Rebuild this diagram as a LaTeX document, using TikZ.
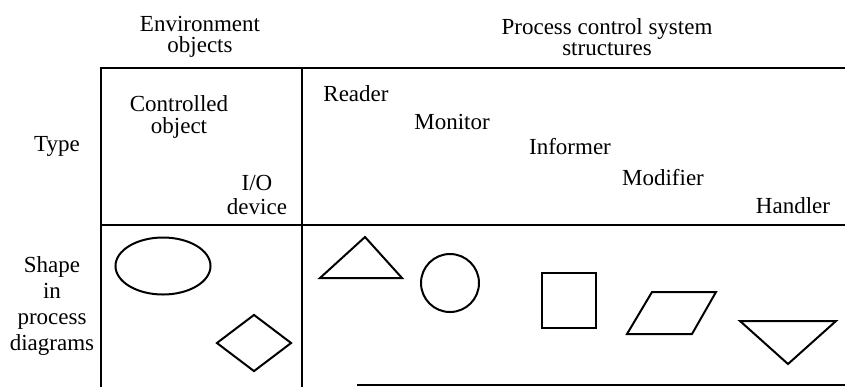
\documentclass[tikz,border=0pt]{standalone}
\usepackage{fontspec}
\setmainfont{Liberation Serif}
\usetikzlibrary{positioning,shapes.geometric}

\begin{document}
\begin{tikzpicture}[x=0.5pt,y=-0.5pt,on grid,
  every node/.style={font=\fontsize{11.5}{10.5}\selectfont,align=center,inner sep=0pt},
  rule/.style={line width=1pt},
  figure/.style={draw,line width=1pt,inner sep=0pt}]
  \useasboundingbox (0,0) rectangle (845,387);

  % table rules
  \draw[rule] (845,68) -- (101,68) -- (101,387);
  \draw[rule] (302,68) -- (302,387);
  \draw[rule] (101,225) -- (845,225);
  \draw[rule] (357,385) -- (845,385);

  % column and row headings
  \node (env) at (200,37) {Environment\\objects};
  \node (pcs) [right=203.5pt of env] {Process control system\\structures};
  \node (type) at (57,146) {Type};
  \node[font=\fontsize{11.5}{13}\selectfont] (shp) at (52,306) {Shape\\in\\process\\diagrams};

  % types
  \node[font=\fontsize{11.5}{11}\selectfont] (ctrl) at (179,117) {Controlled\\object};
  \node[font=\fontsize{11.5}{12}\selectfont] (iodev) [below right=39pt and 39pt of ctrl] {I/O\\device};
  \node (reader) at (356,94) {Reader};
  \node (monitor) [below right=14pt and 48pt of reader] {Monitor};
  \node (informer) [below right=12.5pt and 59pt of monitor] {Informer};
  \node (modifier) [below right=15.5pt and 46.5pt of informer] {Modifier};
  \node (handler) [below right=14pt and 65pt of modifier] {Handler};

  % shapes
  \node[figure,ellipse,minimum width=47.5pt,minimum height=28.5pt] (ctrlshape) at (163,266) {};
  \node[figure,diamond,minimum width=37.5pt,minimum height=28.5pt] (ioshape) at (254,343) {};
  \draw[line width=1pt,line join=miter] (320,278) -- (365,237) -- (402,278) -- cycle;
  \node[figure,circle,minimum size=29pt] (monshape) at (450,283) {};
  \node[figure,rectangle,minimum width=27pt,minimum height=27.5pt] (infshape) at (569,300.5) {};
  \draw[line width=1pt] (627,334) -- (652,292) -- (716,292) -- (692,334) -- cycle;
  \draw[line width=1pt] (740,321) -- (836,321) -- (788,364) -- cycle;
\end{tikzpicture}
\end{document}
